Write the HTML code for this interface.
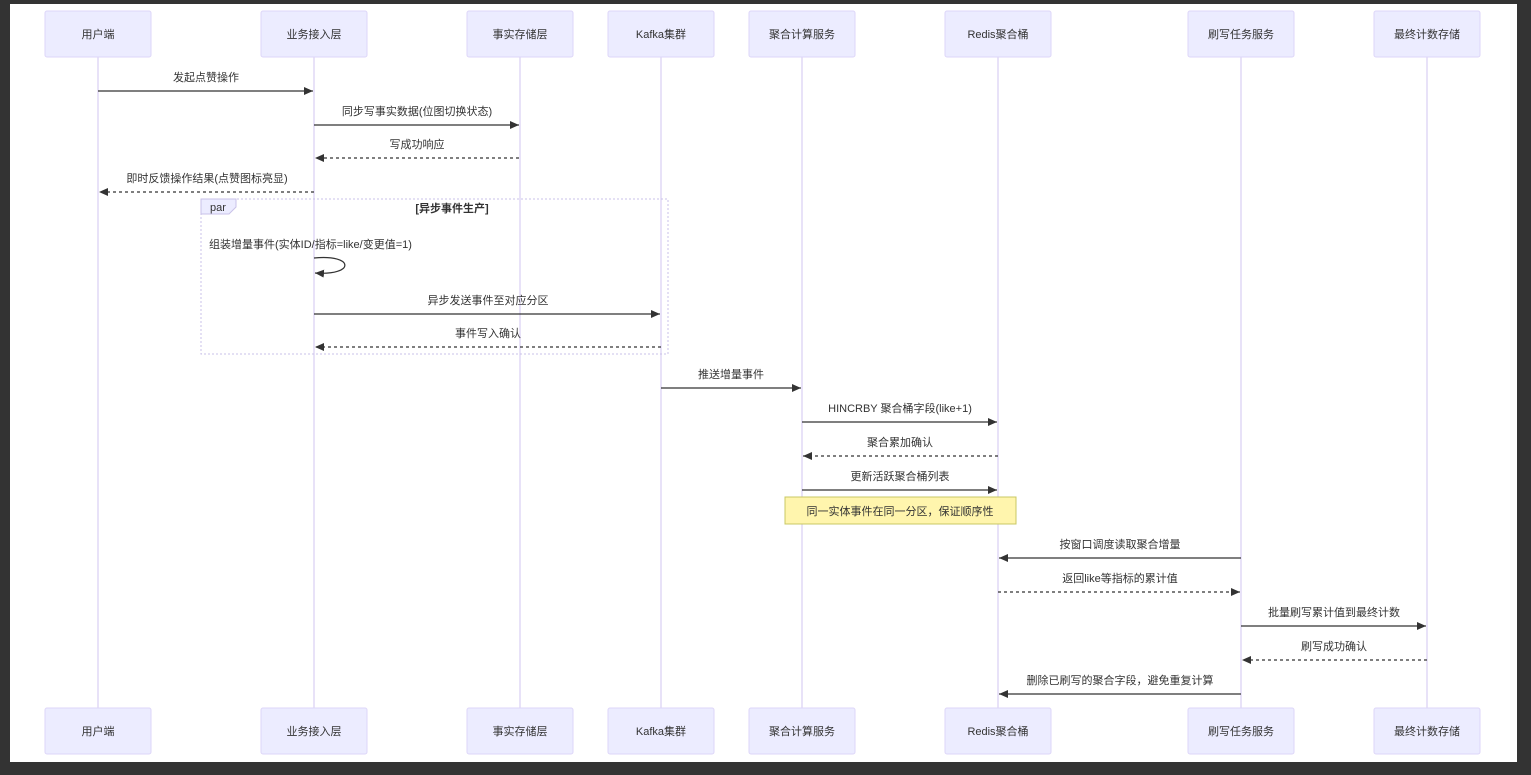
<!DOCTYPE html>
<html><head><meta charset="utf-8"><style>
html,body{margin:0;padding:0;background:#333;}
svg{display:block;}
text{font-family:"Liberation Sans","Noto Sans CJK SC",sans-serif;font-size:11px;fill:#333;}
</style></head><body>
<svg width="1531" height="775" xmlns="http://www.w3.org/2000/svg">
<defs>
<marker id="a" markerWidth="10" markerHeight="10" refX="9" refY="5" orient="auto" markerUnits="userSpaceOnUse"><path d="M0,1 L9,5 L0,9 z" fill="#333"/></marker>
</defs>
<rect x="0" y="0" width="1531" height="775" fill="#333"/>
<rect x="10" y="4" width="1507" height="758" fill="#fff"/>
<g stroke="#dcd3f5" stroke-width="1.3">
<line x1="98" y1="57" x2="98" y2="708"/><line x1="314" y1="57" x2="314" y2="708"/>
<line x1="520" y1="57" x2="520" y2="708"/><line x1="661" y1="57" x2="661" y2="708"/>
<line x1="802" y1="57" x2="802" y2="708"/><line x1="998" y1="57" x2="998" y2="708"/>
<line x1="1241" y1="57" x2="1241" y2="708"/><line x1="1427" y1="57" x2="1427" y2="708"/>
</g>
<g fill="#ececff" stroke="#ddd6f8" stroke-width="1">
<rect x="45" y="11" width="106" height="46" rx="2"/><rect x="261" y="11" width="106" height="46" rx="2"/>
<rect x="467" y="11" width="106" height="46" rx="2"/><rect x="608" y="11" width="106" height="46" rx="2"/>
<rect x="749" y="11" width="106" height="46" rx="2"/><rect x="945" y="11" width="106" height="46" rx="2"/>
<rect x="1188" y="11" width="106" height="46" rx="2"/><rect x="1374" y="11" width="106" height="46" rx="2"/>
<rect x="45" y="708" width="106" height="46" rx="2"/><rect x="261" y="708" width="106" height="46" rx="2"/>
<rect x="467" y="708" width="106" height="46" rx="2"/><rect x="608" y="708" width="106" height="46" rx="2"/>
<rect x="749" y="708" width="106" height="46" rx="2"/><rect x="945" y="708" width="106" height="46" rx="2"/>
<rect x="1188" y="708" width="106" height="46" rx="2"/><rect x="1374" y="708" width="106" height="46" rx="2"/>
</g>
<g text-anchor="middle">
<text x="98" y="38">用户端</text><text x="314" y="38">业务接入层</text><text x="520" y="38">事实存储层</text><text x="661" y="38">Kafka集群</text>
<text x="802" y="38">聚合计算服务</text><text x="998" y="38">Redis聚合桶</text><text x="1241" y="38">刷写任务服务</text><text x="1427" y="38">最终计数存储</text>
<text x="98" y="735">用户端</text><text x="314" y="735">业务接入层</text><text x="520" y="735">事实存储层</text><text x="661" y="735">Kafka集群</text>
<text x="802" y="735">聚合计算服务</text><text x="998" y="735">Redis聚合桶</text><text x="1241" y="735">刷写任务服务</text><text x="1427" y="735">最终计数存储</text>
</g>
<!-- par box -->
<rect x="201" y="199" width="467" height="155" fill="none" stroke="#c9c2e8" stroke-width="1" stroke-dasharray="2,2"/>
<path d="M201,199 H236 V207 L229,214 H201 z" fill="#ececff" stroke="#c9c2e8"/>
<text x="210" y="211">par</text>
<text x="452" y="212" text-anchor="middle" font-weight="bold">[异步事件生产]</text>
<g stroke="#333" stroke-width="1.2" fill="none" marker-end="url(#a)">
<line x1="98" y1="91" x2="313" y2="91"/>
<line x1="314" y1="125" x2="519" y2="125"/>
<line x1="519" y1="158" x2="315" y2="158" stroke-dasharray="3,3"/>
<line x1="314" y1="192" x2="99" y2="192" stroke-dasharray="3,3"/>
<path d="M314,258 C355,254 355,276 315,273"/>
<line x1="314" y1="314" x2="660" y2="314"/>
<line x1="661" y1="347" x2="315" y2="347" stroke-dasharray="3,3"/>
<line x1="661" y1="388" x2="801" y2="388"/>
<line x1="802" y1="422" x2="997" y2="422"/>
<line x1="998" y1="456" x2="803" y2="456" stroke-dasharray="3,3"/>
<line x1="802" y1="490" x2="997" y2="490"/>
<line x1="1241" y1="558" x2="999" y2="558"/>
<line x1="998" y1="592" x2="1240" y2="592" stroke-dasharray="3,3"/>
<line x1="1241" y1="626" x2="1426" y2="626"/>
<line x1="1427" y1="660" x2="1242" y2="660" stroke-dasharray="3,3"/>
<line x1="1241" y1="694" x2="999" y2="694"/>
</g>
<g text-anchor="middle">
<text x="206" y="81">发起点赞操作</text>
<text x="417" y="115">同步写事实数据(位图切换状态)</text>
<text x="417" y="148">写成功响应</text>
<text x="207" y="182">即时反馈操作结果(点赞图标亮显)</text>
<text x="488" y="304">异步发送事件至对应分区</text>
<text x="488" y="337">事件写入确认</text>
<text x="731" y="378">推送增量事件</text>
<text x="900" y="412">HINCRBY 聚合桶字段(like+1)</text>
<text x="900" y="446">聚合累加确认</text>
<text x="900" y="480">更新活跃聚合桶列表</text>
<text x="1120" y="548">按窗口调度读取聚合增量</text>
<text x="1120" y="582">返回like等指标的累计值</text>
<text x="1334" y="616">批量刷写累计值到最终计数</text>
<text x="1334" y="650">刷写成功确认</text>
<text x="1120" y="684">删除已刷写的聚合字段，避免重复计算</text>
</g>
<text x="209" y="248">组装增量事件(实体ID/指标=like/变更值=1)</text>
<rect x="785" y="497" width="231" height="27" fill="#fff5ad" stroke="#c8c864" stroke-width="1"/>
<text x="900" y="515" text-anchor="middle">同一实体事件在同一分区，保证顺序性</text>
</svg>
</body></html>
